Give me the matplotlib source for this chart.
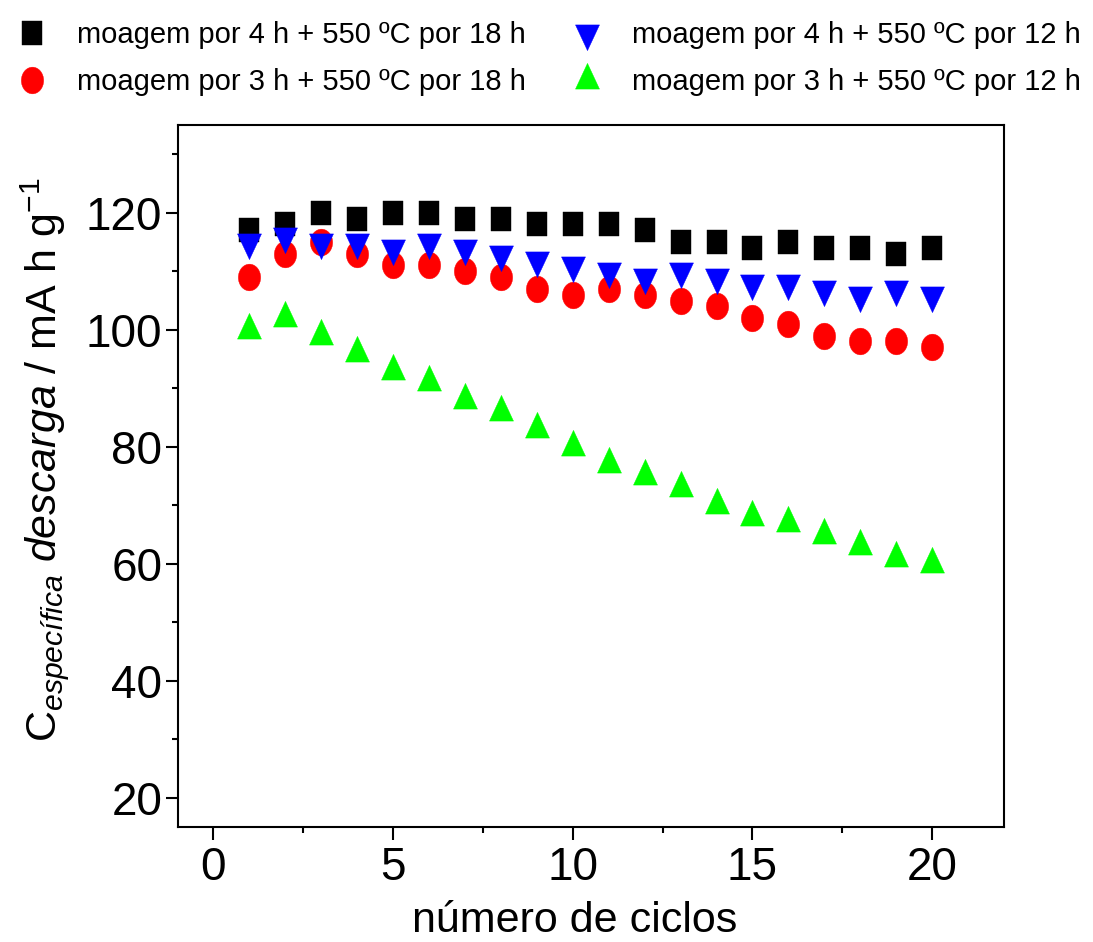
import matplotlib
matplotlib.use('Agg')
import matplotlib.pyplot as plt
from matplotlib.path import Path
from matplotlib.ticker import MultipleLocator
import numpy as np

# ---- data ----
cycles = list(range(1, 21))
cap_4h_18h = [117, 118, 120, 119, 120, 120, 119, 119, 118, 118,
              118, 117, 115, 115, 114, 115, 114, 114, 113, 114]
cap_3h_18h = [109, 113, 115, 113, 111, 111, 110, 109, 107, 106,
              107, 106, 105, 104, 102, 101, 99, 98, 98, 97]
cap_4h_12h = [115, 116, 115, 115, 114, 115, 114, 113, 112, 111,
              110, 109, 110, 109, 108, 108, 107, 106, 107, 106]
cap_3h_12h = [100, 102, 99, 96, 93, 91, 88, 86, 83, 80,
              77, 75, 73, 70, 68, 67, 65, 63, 61, 60]

labels = ['moagem por 4 h + 550 ºC por 18 h',
          'moagem por 3 h + 550 ºC por 18 h',
          'moagem por 4 h + 550 ºC por 12 h',
          'moagem por 3 h + 550 ºC por 12 h']
x_ticks = [0, 5, 10, 15, 20]
y_ticks = [20, 40, 60, 80, 100, 120]

base = 'Liberation Sans'
fs_tick, fs_xlab, fs_ylab, fs_leg = 33, 31, 31, 21

plt.rcParams['font.family'] = [base, 'DejaVu Sans']
plt.rcParams['mathtext.fontset'] = 'custom'
plt.rcParams['mathtext.rm'] = base
plt.rcParams['mathtext.it'] = base + ':italic'
plt.rcParams['mathtext.bf'] = base + ':bold'

PX = 72.0 / 100.0  # points per pixel at dpi 100


def make_marker(verts_px):
    verts = np.asarray(verts_px, dtype=float)
    codes = [Path.MOVETO] + [Path.LINETO] * (len(verts) - 2) + [Path.CLOSEPOLY]
    ms = 2 * np.max(np.abs(verts)) * PX
    return Path(verts, codes), ms


# tall markers as in the reference
sq_w, sq_h = 20.0, 23.3
square, ms_sq = make_marker([(-sq_w / 2, -sq_h / 2), (sq_w / 2, -sq_h / 2),
                             (sq_w / 2, sq_h / 2), (-sq_w / 2, sq_h / 2), (0, 0)])
tri_w, tri_h = 24.0, 25.7
tri_up, ms_tu = make_marker([(0, 2 * tri_h / 3), (-tri_w / 2, -tri_h / 3),
                             (tri_w / 2, -tri_h / 3), (0, 0)])
tri_dn, ms_td = make_marker([(0, -2 * tri_h / 3), (tri_w / 2, tri_h / 3),
                             (-tri_w / 2, tri_h / 3), (0, 0)])
circ_w, circ_h = 22.3, 26.7
uc = Path.unit_circle()
circle = Path(uc.vertices * np.array([circ_w / 2, circ_h / 2]), uc.codes)
ms_c = circ_h * PX

fig = plt.figure(figsize=(10.93, 9.42), dpi=100)
ax = fig.add_axes([177.5 / 1093, 1 - 827 / 942, (1004 - 177.5) / 1093, (827 - 125) / 942])

h1, = ax.plot(cycles, cap_4h_18h, linestyle='none', marker=square, ms=ms_sq,
              color='#000000', mec='#000000', mew=0.3, label=labels[0])
h2, = ax.plot(cycles, cap_3h_18h, linestyle='none', marker=circle, ms=ms_c,
              color='#FF0000', mec='#FF0000', mew=0.3, label=labels[1])
h3, = ax.plot(cycles, cap_4h_12h, linestyle='none', marker=tri_dn, ms=ms_td,
              color='#0000FF', mec='#0000FF', mew=0.3, label=labels[2])
h4, = ax.plot(cycles, cap_3h_12h, linestyle='none', marker=tri_up, ms=ms_tu,
              color='#00FF00', mec='#00FF00', mew=0.3, label=labels[3])

ax.set_xlim(-1, 22)
ax.set_ylim(15, 135)
ax.set_xticks(x_ticks)
ax.set_yticks(y_ticks)
ax.xaxis.set_minor_locator(MultipleLocator(2.5))
ax.yaxis.set_minor_locator(MultipleLocator(10))

for s in ax.spines.values():
    s.set_linewidth(1.5)
ax.tick_params(which='both', direction='out', top=False, right=False, width=1.5)
ax.tick_params(which='major', length=9)
ax.tick_params(which='minor', length=4.5)
ax.tick_params(axis='x', which='major', labelsize=fs_tick, pad=5)
ax.tick_params(axis='y', which='major', labelsize=fs_tick, pad=2)

ax.set_xlabel('número de ciclos', fontsize=fs_xlab)
ax.xaxis.set_label_coords(0.48, -0.106)
ax.set_ylabel(r'C$_{\mathit{específica}}$ $\mathit{descarga}$ / mA h g$^{-1}$',
              fontsize=fs_ylab, va='center')
ax.yaxis.set_label_coords((45 - 177.5) / 826.5, (827 - 460) / 702)

em = fs_leg / PX  # legend font size in pixels
fig.legend(handles=[h1, h2, h3, h4], ncol=2, frameon=False, fontsize=fs_leg,
           loc='upper left', bbox_to_anchor=(16.7 / 1093, 1 - 21 / 942),
           borderaxespad=0, borderpad=0, handlelength=30.6 / em,
           handletextpad=29.7 / em, columnspacing=46.0 / em,
           labelspacing=0.66, numpoints=1)

fig.savefig('out.png', dpi=100)
